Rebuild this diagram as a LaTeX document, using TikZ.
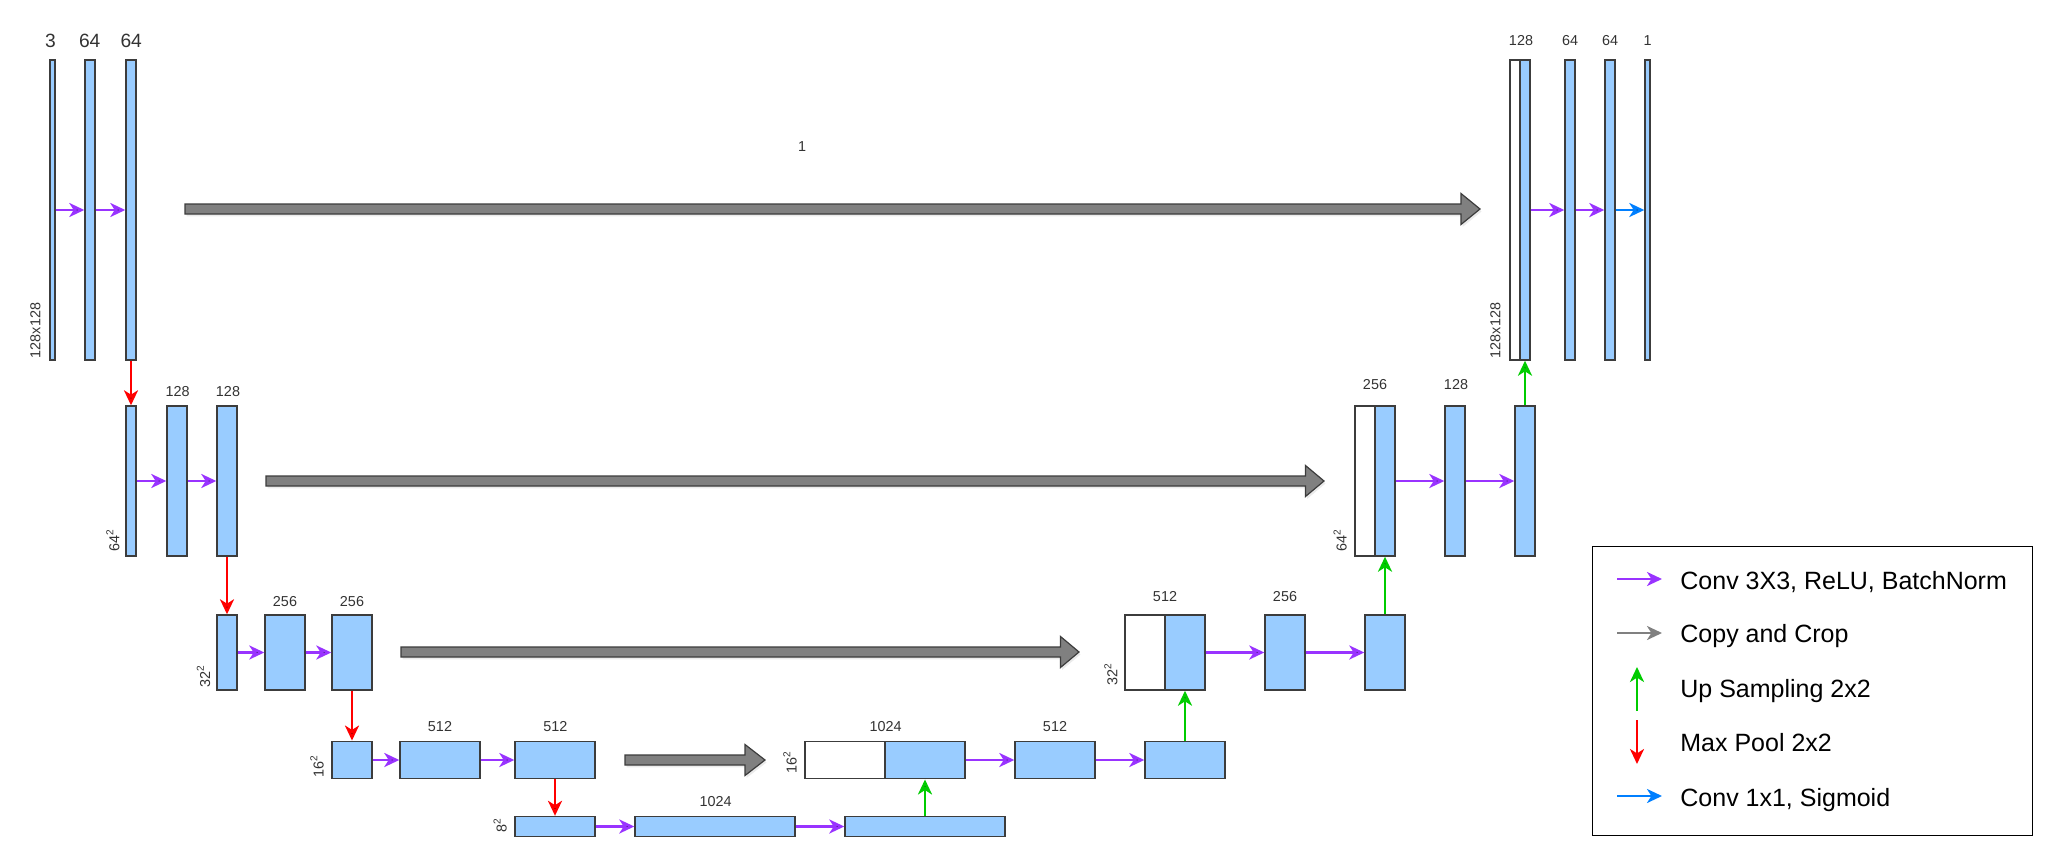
\documentclass[tikz,border=0pt]{standalone}
\usepackage{fontspec}
\setmainfont{Liberation Sans}
\usetikzlibrary{positioning, calc, arrows.meta, shadows}

\definecolor{boxblue}{HTML}{99CCFF}
\definecolor{boxline}{HTML}{3C3C3C}
\definecolor{txtgray}{HTML}{333333}
\definecolor{convpurple}{HTML}{9933FF}
\definecolor{poolred}{HTML}{FF0000}
\definecolor{upgreen}{HTML}{00CC00}
\definecolor{sigblue}{HTML}{007FFF}
\definecolor{copygray}{HTML}{808080}

\tikzset{
	dims/.style 2 args={minimum width=#1*0.5pt, minimum height=#2*0.5pt},
	layer/.style={draw=boxline, fill=boxblue, line width=0.7pt, inner sep=0pt},
	crop/.style={draw=boxline, fill=white, line width=0.7pt, inner sep=0pt},
	chan/.style={text=txtgray, font=\fontsize{7.2}{8}\selectfont, inner sep=0pt},
	bigchan/.style={text=txtgray, font=\fontsize{9.6}{11}\selectfont, inner sep=0pt},
	res/.style={chan, rotate=90},
	legtext/.style={text=black, font=\fontsize{12.5}{14}\selectfont, inner sep=0pt, anchor=base west},
	flow/.style={line width=1.4pt, -{Stealth[length=7.5pt, width=7pt, inset=2.2pt]}},
	conv/.style={flow, draw=convpurple},
	pool/.style={flow, draw=poolred},
	upsm/.style={flow, draw=upgreen},
	sigm/.style={flow, draw=sigblue},
	copyleg/.style={flow, draw=copygray},
	copyarr/.style={draw=boxline, fill=copygray, line width=0.6pt,
		drop shadow={opacity=0.2, fill=black!40, shadow xshift=0.8pt, shadow yshift=-1.2pt}},
}

% fat grey arrow: start, tip, head length
\newcommand{\copyarrow}[3]{%
	\draw[copyarr] ($(#1)+(0,-5)$) -- ($(#2)+(-#3,-5)$) -- ($(#2)+(-#3,-15.5)$) -- (#2)
		-- ($(#2)+(-#3,15.5)$) -- ($(#2)+(-#3,5)$) -- ($(#1)+(0,5)$) -- cycle;}

\begin{document}
\begin{tikzpicture}[x=0.5pt, y=-0.5pt]
	\useasboundingbox (0,0) rectangle (2058,867);

	% encoder
	\node[layer, dims={5}{300}] (enc1a) at (52.5, 210) {};
	\node[layer, dims={10}{300}] (enc1b) at (90, 210) {};
	\node[layer, dims={10}{300}] (enc1c) at (131, 210) {};

	\node[layer, dims={10}{150}] (enc2a) at (131, 481) {};
	\node[layer, dims={20}{150}] (enc2b) at (177, 481) {};
	\node[layer, dims={20}{150}] (enc2c) at (227, 481) {};

	\node[layer, dims={20}{75}] (enc3a) at (227, 652.5) {};
	\node[layer, dims={40}{75}] (enc3b) at (285, 652.5) {};
	\node[layer, dims={40}{75}] (enc3c) at (352, 652.5) {};

	\node[layer, dims={40}{37.5}] (enc4a) at (352, 760) {};
	\node[layer, dims={80}{37.5}] (enc4b) at (440, 760) {};
	\node[layer, dims={80}{37.5}] (enc4c) at (555, 760) {};

	% bottleneck
	\node[layer, dims={80}{20}] (bot1) at (555, 826.5) {};
	\node[layer, dims={160}{20}] (bot2) at (715, 826.5) {};
	\node[layer, dims={160}{20}] (bot3) at (925, 826.5) {};

	% decoder
	\node[crop, dims={80}{37.5}] (dec4cat) at (845, 760) {};
	\node[layer, dims={80}{37.5}] (dec4a) at (925, 760) {};
	\node[layer, dims={80}{37.5}] (dec4b) at (1055, 760) {};
	\node[layer, dims={80}{37.5}] (dec4c) at (1185, 760) {};

	\node[crop, dims={40}{75}] (dec3cat) at (1145, 652.5) {};
	\node[layer, dims={40}{75}] (dec3a) at (1185, 652.5) {};
	\node[layer, dims={40}{75}] (dec3b) at (1285, 652.5) {};
	\node[layer, dims={40}{75}] (dec3c) at (1385, 652.5) {};

	\node[crop, dims={20}{150}] (dec2cat) at (1365, 481) {};
	\node[layer, dims={20}{150}] (dec2a) at (1385, 481) {};
	\node[layer, dims={20}{150}] (dec2b) at (1455, 481) {};
	\node[layer, dims={20}{150}] (dec2c) at (1525, 481) {};

	\node[crop, dims={10}{300}] (dec1cat) at (1515, 210) {};
	\node[layer, dims={10}{300}] (dec1a) at (1525, 210) {};
	\node[layer, dims={10}{300}] (dec1b) at (1570, 210) {};
	\node[layer, dims={10}{300}] (dec1c) at (1610, 210) {};
	\node[layer, dims={5}{300}] (dec1d) at (1647.5, 210) {};

	% channel counts
	\node[bigchan] (c1a) at (50.5, 40.8) {3};
	\node[bigchan] (c1b) at (89.7, 40.8) {64};
	\node[bigchan] (c1c) at (131.2, 40.8) {64};
	\node[chan] (c2b) at (177.7, 392) {128};
	\node[chan] (c2c) at (228, 392) {128};
	\node[chan] (c3b) at (285, 602) {256};
	\node[chan] (c3c) at (352, 602) {256};
	\node[chan] (c4b) at (440, 727) {512};
	\node[chan] (c4c) at (555.3, 727) {512};
	\node[chan] (cb2) at (715.7, 802) {1024};
	\node[chan] (d4a) at (885.7, 727) {1024};
	\node[chan] (d4b) at (1055, 727) {512};
	\node[chan] (d3a) at (1165, 597) {512};
	\node[chan] (d3b) at (1285, 597) {256};
	\node[chan] (d2a) at (1375, 385) {256};
	\node[chan] (d2b) at (1456, 385) {128};
	\node[chan] (d1a) at (1521, 40.8) {128};
	\node[chan] (d1b) at (1570, 40.8) {64};
	\node[chan] (d1c) at (1610, 40.8) {64};
	\node[chan] (d1d) at (1647.5, 40.8) {1};
	\node[chan] (cplab) at (802, 147) {1};

	% resolutions
	\node[res] (r1l) at (35.5, 330.5) {128x128};
	\node[res] (r1r) at (1495.5, 330.5) {128x128};
	\node[res, anchor=base] (r2l) at (119.3, 540.5) {64\textsuperscript{2}};
	\node[res, anchor=base] (r2r) at (1346.7, 540) {64\textsuperscript{2}};
	\node[res, anchor=base] (r3l) at (210, 676.3) {32\textsuperscript{2}};
	\node[res, anchor=base] (r3r) at (1117.3, 674) {32\textsuperscript{2}};
	\node[res, anchor=base] (r4l) at (323.5, 766) {16\textsuperscript{2}};
	\node[res, anchor=base] (r4r) at (796.5, 761.7) {16\textsuperscript{2}};
	\node[res, anchor=base] (r5) at (506.7, 824.7) {8\textsuperscript{2}};

	% conv 3x3
	\path [conv] (enc1a) edge (enc1b);
	\path [conv] (enc1b) edge (enc1c);
	\path [conv] (enc2a) edge (enc2b);
	\path [conv] (enc2b) edge (enc2c);
	\path [conv] (enc3a) edge (enc3b);
	\path [conv] (enc3b) edge (enc3c);
	\path [conv] (enc4a) edge (enc4b);
	\path [conv] (enc4b) edge (enc4c);
	\path [conv] (bot1) edge (bot2);
	\path [conv] (bot2) edge (bot3);
	\path [conv] (dec4a) edge (dec4b);
	\path [conv] (dec4b) edge (dec4c);
	\path [conv] (dec3a) edge (dec3b);
	\path [conv] (dec3b) edge (dec3c);
	\path [conv] (dec2a) edge (dec2b);
	\path [conv] (dec2b) edge (dec2c);
	\path [conv] (dec1a) edge (dec1b);
	\path [conv] (dec1b) edge (dec1c);
	\path [sigm] (dec1c) edge (dec1d);

	% max pool
	\path [pool] (enc1c) edge (enc2a);
	\path [pool] (enc2c) edge (enc3a);
	\path [pool] (enc3c) edge (enc4a);
	\path [pool] (enc4c) edge (bot1);

	% up sampling
	\path [upsm] (bot3) edge (dec4a);
	\path [upsm] (dec4c) edge (dec3a);
	\path [upsm] (dec3c) edge (dec2a);
	\path [upsm] (dec2c) edge (dec1a);

	% copy and crop
	\coordinate (cp1s) at (185, 209);
	\coordinate (cp1e) at (1480, 209);
	\coordinate (cp2s) at (266, 481);
	\coordinate (cp2e) at (1324, 481);
	\coordinate (cp3s) at (401, 652);
	\coordinate (cp3e) at (1079, 652);
	\coordinate (cp4s) at (625, 760);
	\coordinate (cp4e) at (765, 760);
	\copyarrow{cp1s}{cp1e}{19}
	\copyarrow{cp2s}{cp2e}{18.5}
	\copyarrow{cp3s}{cp3e}{18.5}
	\copyarrow{cp4s}{cp4e}{20}

	% legend
	\node[draw=black, line width=0.6pt, inner sep=0pt, dims={440}{289}] (legend) at (1812.3, 691.3) {};
	\coordinate (k1s) at (1617, 579);
	\coordinate (k1e) at (1662, 579);
	\coordinate (k2s) at (1617, 633);
	\coordinate (k2e) at (1662, 633);
	\coordinate (k3s) at (1637, 711);
	\coordinate (k3e) at (1637, 667);
	\coordinate (k4s) at (1637, 720);
	\coordinate (k4e) at (1637, 764);
	\coordinate (k5s) at (1617, 796);
	\coordinate (k5e) at (1662, 796);
	\draw[conv] (k1s) -- (k1e);
	\draw[copyleg] (k2s) -- (k2e);
	\draw[upsm] (k3s) -- (k3e);
	\draw[pool] (k4s) -- (k4e);
	\draw[sigm] (k5s) -- (k5e);
	\node[legtext] (t1) at (1680, 589.3) {Conv 3X3, ReLU, BatchNorm};
	\node[legtext] (t2) at (1680, 642.7) {Copy and Crop};
	\node[legtext] (t3) at (1680, 697) {Up Sampling 2x2};
	\node[legtext] (t4) at (1680, 751) {Max Pool 2x2};
	\node[legtext] (t5) at (1680, 806) {Conv 1x1, Sigmoid};
\end{tikzpicture}
\end{document}
